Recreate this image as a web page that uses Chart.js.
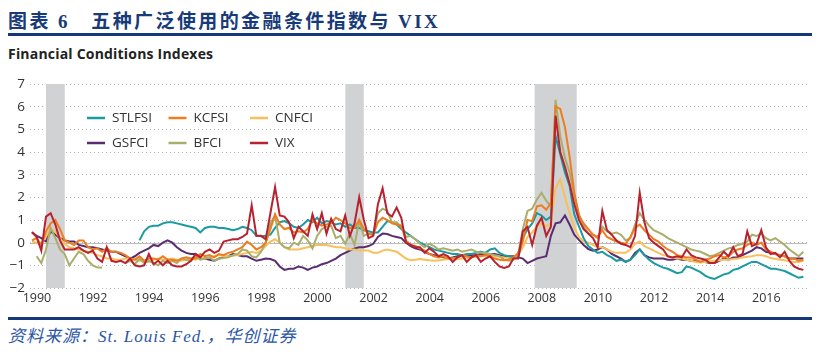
<!DOCTYPE html>
<html lang="zh">
<head>
<meta charset="utf-8">
<script src="https://cdn.jsdelivr.net/npm/chart.js"></script>
<style>
  body { margin: 0; background: #fff; width: 818px; height: 362px; position: relative; overflow: hidden; }
  .title { position: absolute; left: 8px; top: 6px; font: bold 19px "Liberation Serif", "Noto Sans CJK SC", serif; letter-spacing: 2.4px; color: #173a78; white-space: pre; }
  .rule { position: absolute; left: 8px; width: 804px; height: 3px; background: #14397a; }
  .sub { position: absolute; left: 8px; top: 44px; font: bold 14px "Open Sans", sans-serif; letter-spacing: 0.2px; color: #222; }
  .src { position: absolute; left: 8px; top: 322px; font: italic 17px "Liberation Serif", "Noto Sans CJK SC", serif; letter-spacing: 1px; color: #2b56a6; }
  #wrap { position: absolute; left: 0; top: 70px; width: 818px; height: 240px; }
</style>
</head>
<body>
<div class="title">图表 6   五种广泛使用的金融条件指数与 VIX</div>
<div class="rule" style="top:33px"></div>
<div class="sub">Financial Conditions Indexes</div>
<div id="wrap"><canvas id="fci" width="818" height="240"></canvas></div>
<div class="rule" style="top:317px"></div>
<div class="src">资料来源：St. Louis Fed.，华创证券</div>

<script>
// bimonthly readings, 6 per year from 1990 to mid-2017
const firstYear = 1990;
const perYear = 6;

const yearTicks = [1990, 1992, 1994, 1996, 1998, 2000, 2002, 2004, 2006, 2008, 2010, 2012, 2014, 2016];
const valueTicks = [-2, -1, 0, 1, 2, 3, 4, 5, 6, 7];
const recessions = [[1990.5, 1991.17], [2001.17, 2001.83], [2007.92, 2009.42]];

const stlfsi = [
  null, null, null, null, null, null,
  null, null, null, null, null, null,
  null, null, null, null, null, null,
  null, null, null, null, null, 0.1,
  0.5, 0.7, 0.75, 0.75, 0.85, 0.9,
  0.9, 0.85, 0.8, 0.75, 0.7, 0.65,
  0.45, 0.65, 0.7, 0.7, 0.65, 0.65,
  0.6, 0.55, 0.6, 0.7, 0.65, 0.55,
  0.3, 0.28, 0.3, 0.35, 0.65, 0.9,
  0.95, 0.85, 0.7, 0.65, 0.8, 1.0,
  0.9, 1.1, 0.85, 0.95, 0.9, 0.8,
  0.85, 0.7, 0.8, 0.65, 0.65, 0.55,
  0.5, 0.45, 0.45, 0.7, 0.95, 0.9,
  0.8, 0.6, 0.45, 0.3, 0.15, 0.0,
  -0.1, -0.2, -0.3, -0.35, -0.4, -0.45,
  -0.5, -0.5, -0.55, -0.5, -0.5, -0.45,
  -0.4, -0.45, -0.3, -0.25, -0.45, -0.55,
  -0.6, -0.65, -0.65, 0.2, 0.6, 0.85,
  1.3, 1.2, 1.0, 1.15, 4.7, 3.9,
  3.1, 2.5, 1.25, 0.72, 0.2, -0.15,
  -0.3, -0.45, -0.4, -0.55, -0.65, -0.8,
  -0.75, -0.85, -0.75, -0.55, -0.3, -0.55,
  -0.75, -0.9, -1.0, -1.1, -1.15, -1.25,
  -1.35, -1.3, -1.05, -1.1, -1.2, -1.3,
  -1.45, -1.55, -1.6, -1.5, -1.4, -1.35,
  -1.2, -1.15, -1.05, -0.95, -0.85, -0.85,
  -0.95, -1.05, -1.15, -1.15, -1.2, -1.25,
  -1.35, -1.45, -1.55, -1.5
];

const kcfsi = [
  0.1, 0.2, -0.1, 0.5, 0.85, 1.0,
  0.6, 0.1, 0.0, -0.1, 0.1, 0.1,
  -0.2, -0.3, -0.25, -0.4, -0.25, -0.4,
  -0.4, -0.45, -0.55, -0.7, -0.75, -0.6,
  -0.8, -0.7, -0.7, -0.75, -0.6, -0.75,
  -0.75, -0.8, -0.7, -0.65, -0.7, -0.7,
  -0.5, -0.6, -0.55, -0.65, -0.5, -0.55,
  -0.45, -0.4, -0.3, -0.2, 0.05, -0.1,
  -0.3, -0.2, 0.0, 0.6, 1.25, 0.8,
  0.6, 0.65, 0.45, 0.5, 0.45, 0.6,
  1.0, 0.85, 0.75, 0.8, 0.85, 1.1,
  1.0, 0.85, 0.65, 0.65, 1.0, 0.6,
  0.4, 0.35, 0.9, 1.1, 1.0, 0.85,
  0.8, 0.75, 0.1, -0.1, -0.15, -0.25,
  -0.35, -0.5, -0.6, -0.65, -0.6, -0.7,
  -0.7, -0.65, -0.55, -0.6, -0.65, -0.55,
  -0.6, -0.55, -0.6, -0.7, -0.75, -0.78,
  -0.75, -0.65, -0.45, 0.05, 1.0, 0.95,
  1.6, 1.65, 1.45, 1.75, 6.0, 5.9,
  5.1, 3.8, 2.2, 1.2, 0.85, 0.6,
  0.35, 0.25, 0.55, 0.25, 0.15, 0.05,
  0.0, -0.05, 0.25, 0.65, 0.8, 0.55,
  0.35, 0.15, 0.05, -0.15, -0.3, -0.4,
  -0.55, -0.6, -0.65, -0.65, -0.75, -0.85,
  -0.75, -0.7, -0.6, -0.55, -0.65, -0.6,
  -0.4, -0.3, -0.25, -0.1, 0.0, -0.1,
  0.0, -0.3, -0.4, -0.5, -0.55, -0.6,
  -0.7, -0.7, -0.8, -0.75
];

const cnfci = [
  0.05, 0.0, -0.05, 0.3, 0.6, 0.5,
  0.2, -0.05, -0.2, -0.25, -0.3, -0.35,
  -0.4, -0.45, -0.55, -0.6, -0.7, -0.7,
  -0.75, -0.75, -0.7, -0.7, -0.75, -0.8,
  -0.8, -0.85, -0.75, -0.7, -0.75, -0.75,
  -0.7, -0.75, -0.8, -0.75, -0.7, -0.75,
  -0.65, -0.7, -0.65, -0.6, -0.55, -0.6,
  -0.6, -0.58, -0.55, -0.5, -0.45, -0.4,
  -0.45, -0.35, -0.15, 0.05, 0.15, 0.0,
  -0.2, -0.3, -0.3, -0.3, -0.25, -0.2,
  -0.15, -0.1, -0.1, -0.1, -0.15, -0.2,
  -0.2, -0.25, -0.3, -0.3, -0.35, -0.35,
  -0.35, -0.45, -0.45, -0.35, -0.3, -0.35,
  -0.4, -0.55, -0.7, -0.78, -0.75, -0.72,
  -0.75, -0.78, -0.8, -0.78, -0.75, -0.72,
  -0.7, -0.72, -0.7, -0.68, -0.65, -0.62,
  -0.6, -0.58, -0.55, -0.6, -0.62, -0.65,
  -0.7, -0.65, -0.55, -0.2, 0.25, 0.45,
  0.72, 0.85, 0.72, 0.85, 2.4, 2.8,
  2.0, 1.3, 0.7, 0.25, 0.05, 0.0,
  -0.1, -0.2, -0.2, -0.3, -0.4, -0.45,
  -0.45, -0.45, -0.3, -0.05, 0.05, -0.15,
  -0.25, -0.35, -0.45, -0.55, -0.6, -0.65,
  -0.7, -0.7, -0.75, -0.8, -0.85, -0.88,
  -0.85, -0.82, -0.8, -0.78, -0.75, -0.75,
  -0.72, -0.7, -0.65, -0.62, -0.6, -0.55,
  -0.55, -0.6, -0.68, -0.72, -0.75, -0.78,
  -0.82, -0.85, -0.85, -0.8
];

const gsfci = [
  0.45, 0.3, 0.2, 0.05, 0.5, 0.35,
  0.2, 0.1, 0.05, 0.05, -0.1, -0.15,
  -0.2, -0.2, -0.25, -0.3, -0.35, -0.4,
  -0.4, -0.5, -0.6, -0.7, -0.6, -0.45,
  -0.35, -0.25, -0.1, -0.15, 0.0, 0.1,
  0.0, -0.2, -0.35, -0.45, -0.5, -0.5,
  -0.65, -0.7, -0.75, -0.8, -0.7, -0.65,
  -0.6, -0.5, -0.55, -0.6, -0.6, -0.7,
  -0.8, -0.75, -0.7, -0.72, -0.8, -1.05,
  -1.2, -1.15, -1.15, -1.05, -1.1, -1.2,
  -1.1, -1.05, -0.95, -0.9, -0.8, -0.7,
  -0.55, -0.45, -0.35, -0.25, -0.2, -0.2,
  -0.15, -0.05, 0.25, 0.4, 0.38, 0.3,
  0.25, 0.2, 0.0, -0.15, -0.25, -0.3,
  -0.4, -0.5, -0.55, -0.6, -0.65, -0.7,
  -0.65, -0.6, -0.55, -0.6, -0.55, -0.55,
  -0.5, -0.55, -0.5, -0.5, -0.55, -0.6,
  -0.6, -0.6, -0.65, -0.7, -0.9, -0.8,
  -0.7, -0.65, -0.6, 0.3, 0.85, 0.9,
  1.2, 0.8, 0.35, 0.12, -0.1, -0.28,
  -0.35, -0.3, -0.2, -0.3, -0.5, -0.6,
  -0.7, -0.85, -0.75, -0.45, -0.3, -0.55,
  -0.65, -0.7, -0.7, -0.7, -0.75, -0.75,
  -0.7, -0.75, -0.75, -0.8, -0.8, -0.85,
  -0.85, -0.9, -0.9, -0.8, -0.7, -0.75,
  -0.65, -0.65, -0.55, -0.45, -0.35, -0.2,
  -0.25, -0.4, -0.45, -0.5, -0.55, -0.6,
  -0.7, -0.7, -0.7, -0.7
];

const bfci = [
  null, -0.6, -0.9, -0.3, 0.65, 0.2,
  -0.3, -0.5, -1.0, -0.7, -0.4, -0.5,
  -0.8, -1.0, -1.1, -1.1, null, null,
  null, null, -0.9, -0.8, -0.95, -0.7,
  -0.9, -0.8, -0.9, -1.0, -0.8, -0.9,
  -0.8, -0.9, -0.7, -0.75, -0.8, -0.6,
  -0.75, -0.7, -0.65, -0.8, -0.7, -0.68,
  -0.65, -0.55, -0.5, -0.3, -0.35, -0.6,
  -0.65, -0.4, 0.0, 0.85, 1.2, 0.0,
  -0.2, -0.25, 0.0, -0.1, 0.3, 0.1,
  -0.25, 0.3, 0.6, 0.7, 0.75, 0.2,
  0.3, -0.05, 0.4, -0.1, 0.95, 0.3,
  0.4, 0.35, 1.3, 1.5, 1.4, 0.9,
  0.9, 0.7, 0.25, 0.3, 0.15, -0.05,
  -0.2, -0.05, -0.15, -0.3, -0.25, -0.3,
  -0.35, -0.3, -0.4, -0.35, -0.3, -0.4,
  -0.45, -0.45, -0.5, -0.55, -0.6, -0.75,
  -0.8, -0.75, -0.5, 0.6, 1.4, 1.5,
  1.9, 2.2, 1.85, 1.6, 6.3, 4.7,
  3.75, 3.1, 2.1, 1.25, 0.75, 0.4,
  0.35, 0.2, 0.7, 0.5, 0.4, 0.45,
  0.35, 0.1, 0.2, 0.8, 1.3, 1.0,
  0.75, 0.55, 0.45, 0.35, 0.2, 0.1,
  0.0, -0.1, -0.2, -0.3, -0.35, -0.4,
  -0.5, -0.6, -0.55, -0.45, -0.35, -0.25,
  -0.2, -0.1, -0.05, 0.05, 0.35, 0.3,
  0.4, 0.2, 0.1, 0.2, 0.05, -0.1,
  -0.3, -0.45, -0.6, -0.4
];

const vix = [
  0.47, 0.25, -0.35, 1.15, 1.3, 0.8,
  0.1, -0.3, -0.3, -0.3, -0.2, -0.35,
  -0.45, -0.35, -0.7, -0.85, -0.2, -0.8,
  -0.85, -0.8, -0.9, -0.7, -1.0, -1.05,
  -1.0, -0.5, -0.95, -0.8, -1.0, -0.8,
  -1.0, -1.05, -1.05, -0.95, -0.8, -0.5,
  -0.65, -0.4, -0.3, -0.45, -0.35, 0.05,
  0.1, 0.15, 0.15, 0.25, 0.4, 1.65,
  0.3, 0.3, 0.15, 1.3, 2.45, 1.2,
  1.15, 0.9, 0.2, 0.7, 0.5, 0.3,
  1.25, 0.6, 1.3, 0.4, 1.05, 0.6,
  0.5, 1.2, 0.3, 0.85, 2.0, 1.0,
  0.2, 0.3, 1.7, 2.4, 1.3, 1.15,
  1.55, 1.1, 0.0, -0.1, -0.2, -0.2,
  -0.45, -0.25, -0.4, -0.6, -0.5, -0.6,
  -0.85, -0.65, -0.55, -0.85, -0.65, -0.55,
  -0.85, -0.7, -0.6, -0.85, -1.05, -1.12,
  -1.05, -0.7, -0.7, 0.5, 0.7, -0.1,
  0.75, 1.1, 0.3, 0.7, 5.6, 4.0,
  3.35, 2.6, 1.7, 1.0, 0.6, 0.4,
  0.2, -0.2, 1.4, 0.55, 0.35, 0.1,
  -0.05, -0.1, -0.2, 0.3, 2.2, 0.9,
  0.2, 0.0, -0.15, -0.3, -0.6, -0.65,
  -0.6, -0.65, -0.3, -0.55, -0.65, -0.7,
  -0.75, -0.9, -0.9, -0.65, -0.4, -0.6,
  -0.2, -0.6, -0.5, 0.5, -0.15, -0.05,
  0.55, -0.2, -0.5, -0.45, -0.65, -0.4,
  -0.8, -1.05, -1.15, -1.2
];

const series = [
  { label: 'STLFSI', values: stlfsi, color: '#1a9ba1', order: 4 },
  { label: 'KCFSI', values: kcfsi, color: '#ee7d1f', order: 2 },
  { label: 'CNFCI', values: cnfci, color: '#f8c05a', order: 5 },
  { label: 'GSFCI', values: gsfci, color: '#5b2c6f', order: 6 },
  { label: 'BFCI', values: bfci, color: '#a9ae6b', order: 3 },
  { label: 'VIX', values: vix, color: '#b8212f', order: 1 }
];

const toPoints = vals => vals.map((v, i) => ({ x: firstYear + i / perYear, y: v }));

// grey recession bands + solid zero line
const shading = {
  id: 'shading',
  beforeDatasetsDraw(chart) {
    const { ctx, chartArea: a, scales: { x, y } } = chart;
    ctx.save();
    ctx.fillStyle = '#d1d2d4';
    recessions.forEach(([s, e]) => {
      const x0 = x.getPixelForValue(s), x1 = x.getPixelForValue(e);
      ctx.fillRect(x0, a.top, x1 - x0, a.bottom - a.top);
    });
    const y0 = Math.round(y.getPixelForValue(0)) + 0.5;
    ctx.strokeStyle = '#bcbcbc';
    ctx.lineWidth = 1.2;
    ctx.beginPath();
    ctx.moveTo(a.left, y0);
    ctx.lineTo(a.right, y0);
    ctx.stroke();
    ctx.restore();
  }
};

// legend inside the plot, 2 rows x 3 columns
const legendBox = {
  id: 'legendBox',
  afterDraw(chart) {
    const { ctx, chartArea: a } = chart;
    ctx.save();
    ctx.font = '13.5px "Open Sans", sans-serif';
    ctx.textBaseline = 'middle';
    ctx.fillStyle = '#333';
    series.forEach((s, i) => {
      const lx = a.left + 57 + (i % 3) * 81.5;
      const ly = a.top + 34 + Math.floor(i / 3) * 25;
      ctx.strokeStyle = s.color;
      ctx.lineWidth = 2.5;
      ctx.beginPath();
      ctx.moveTo(lx, ly);
      ctx.lineTo(lx + 18, ly);
      ctx.stroke();
      ctx.fillText(s.label, lx + 25, ly + 0.5);
    });
    ctx.restore();
  }
};

Chart.defaults.font.family = "'Open Sans', sans-serif";
Chart.defaults.color = '#333';

new Chart(document.getElementById('fci'), {
  type: 'line',
  data: {
    datasets: series.map(s => ({
      label: s.label,
      data: toPoints(s.values),
      borderColor: s.color,
      backgroundColor: s.color,
      borderWidth: 2,
      pointRadius: 0,
      tension: 0,
      spanGaps: false,
      order: s.order
    }))
  },
  options: {
    responsive: false,
    animation: false,
    devicePixelRatio: 1,
    layout: { padding: { top: 14, right: 11, left: 0, bottom: 0 } },
    plugins: { legend: { display: false }, tooltip: { enabled: false } },
    scales: {
      x: {
        type: 'linear',
        min: 1989.93,
        max: 2017.63,
        afterBuildTicks: s => { s.ticks = yearTicks.map(v => ({ value: v })); },
        afterFit: s => { s.height = 22; },
        grid: { display: false, drawTicks: false },
        border: { display: false },
        ticks: {
          autoSkip: false,
          maxRotation: 0,
          padding: 3,
          labelOffset: 5,
          font: { size: 12.5 },
          color: '#333',
          callback: v => String(v)
        }
      },
      y: {
        min: -2,
        max: 7,
        afterBuildTicks: s => { s.ticks = valueTicks.map(v => ({ value: v })); },
        afterFit: s => { s.width = 30; },
        grid: { color: '#b3b3b3', lineWidth: 1, drawTicks: false },
        border: { display: false, dash: [1, 3] },
        ticks: {
          padding: 5,
          font: { size: 13.5 },
          color: '#333',
          callback: v => (v < 0 ? '\u2212' + Math.abs(v) : String(v))
        }
      }
    }
  },
  plugins: [shading, legendBox]
});
</script>
</body>
</html>
